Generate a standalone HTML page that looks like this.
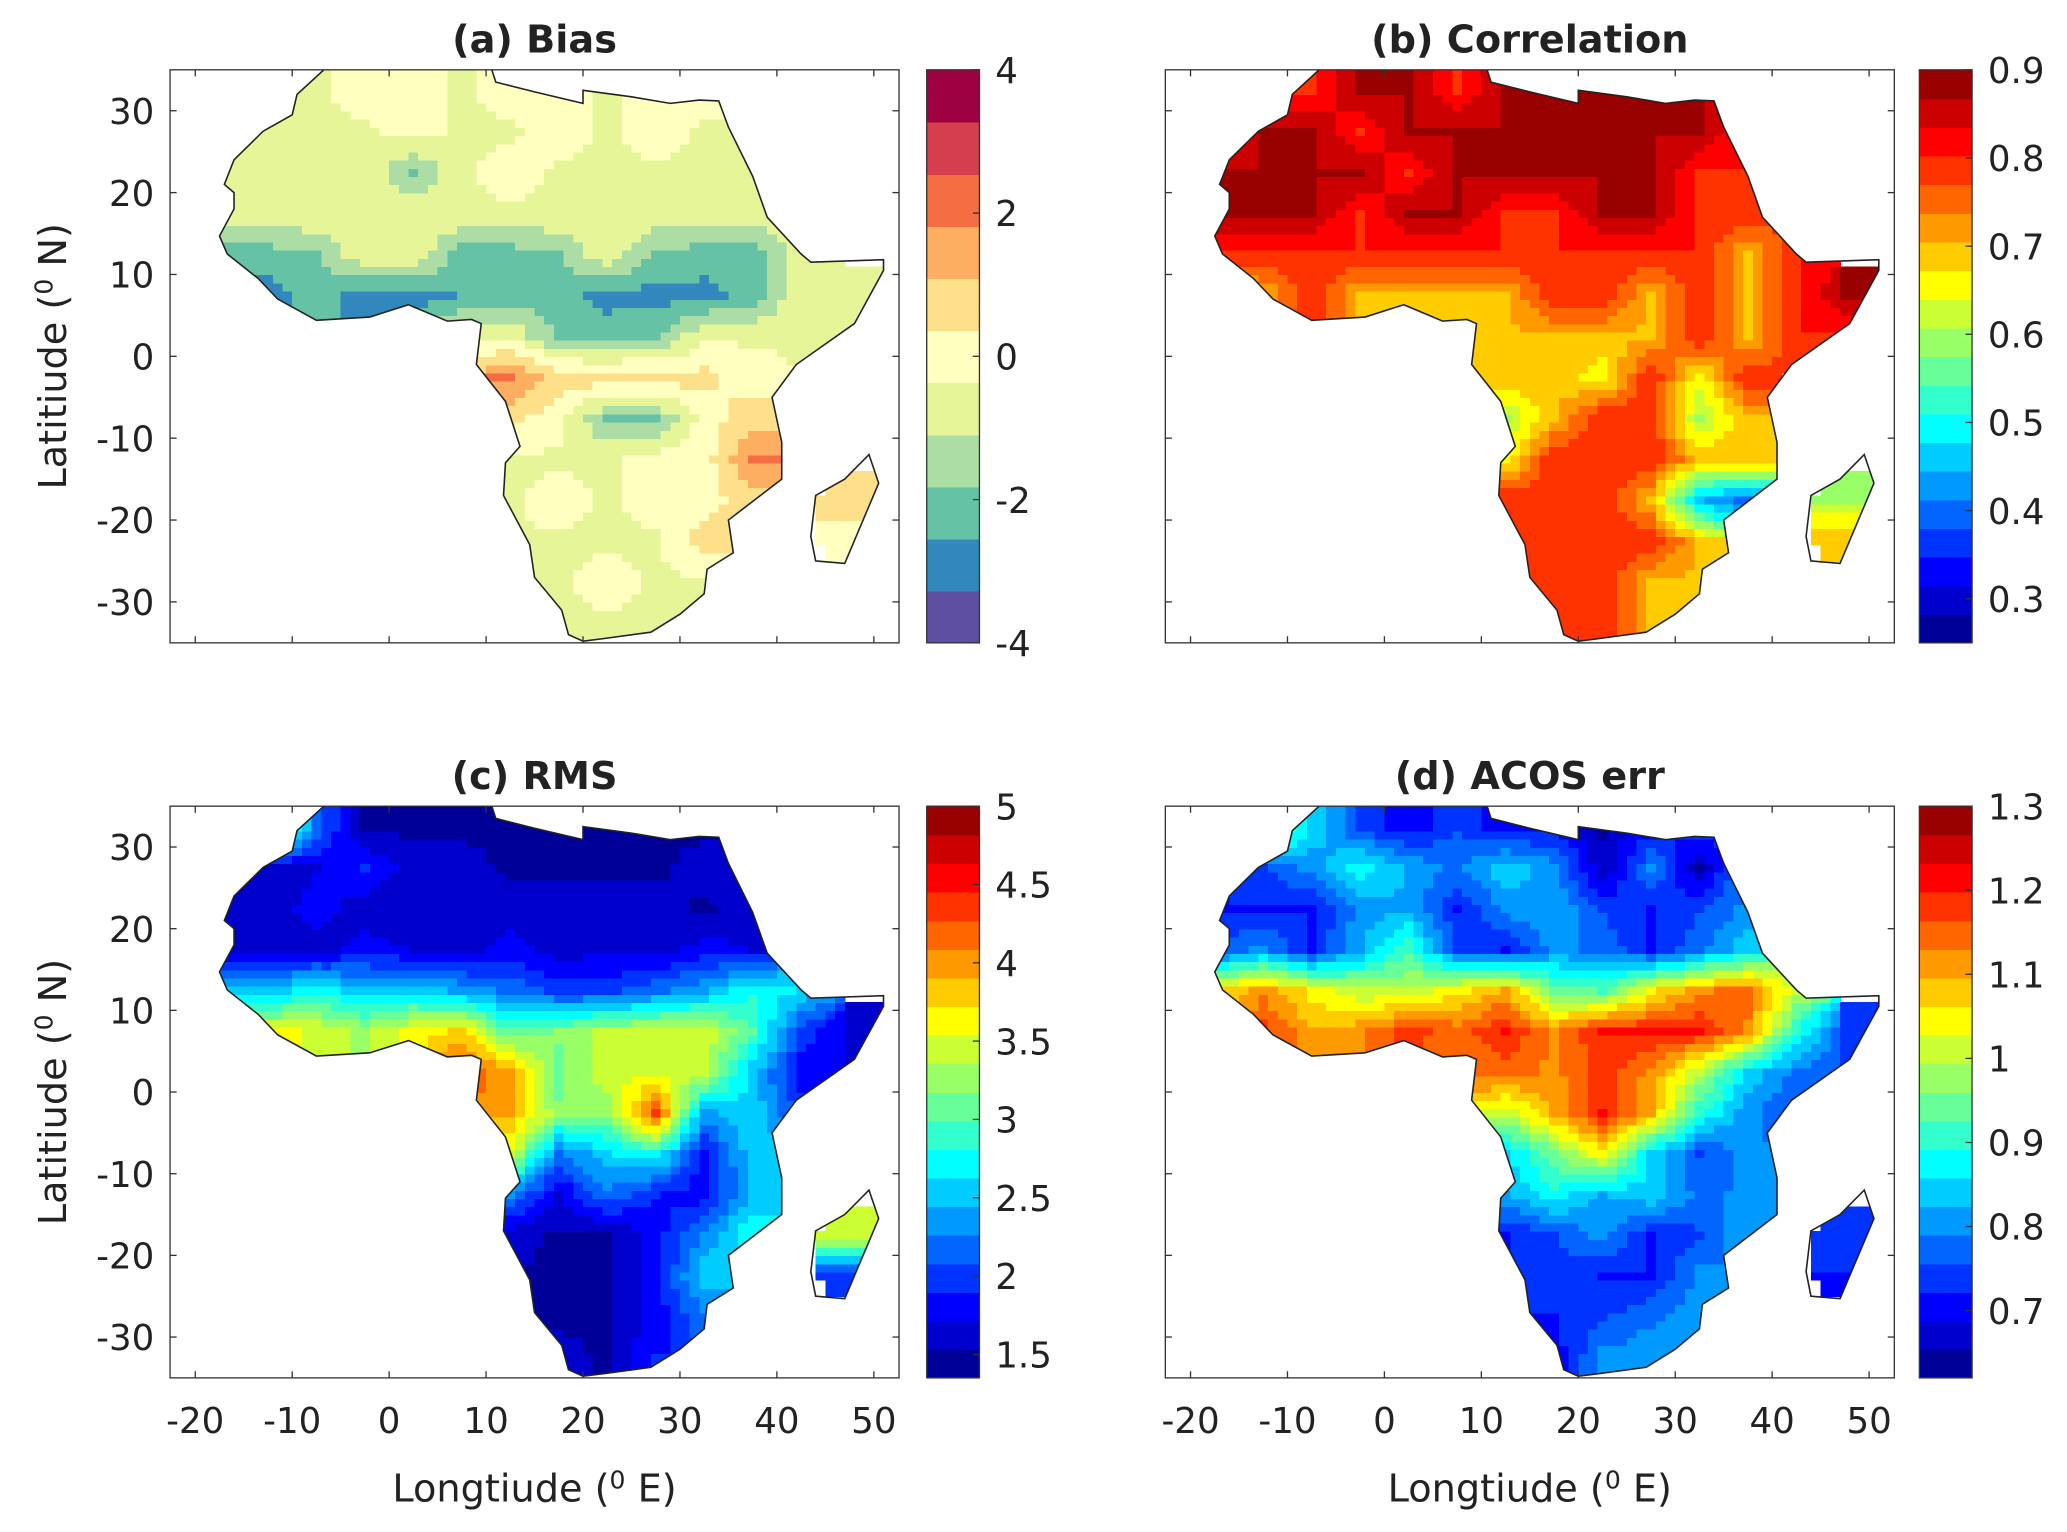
<!DOCTYPE html>
<html><head><meta charset="utf-8"><style>
html,body{margin:0;padding:0;background:#fff}
svg{display:block}
text{font-family:"DejaVu Sans","Liberation Sans",sans-serif;fill:#222}
</style></head><body>
<svg id="fig" width="2067" height="1532" viewBox="0 0 1568 1163" preserveAspectRatio="none" xmlns="http://www.w3.org/2000/svg"></svg>
<script>
// ---- data ----
const lonCenters=[-17.5,-12.5,-7.5,-2.5,2.5,7.5,12.5,17.5,22.5,27.5,32.5,37.5,42.5,47.5];
const latCenters=[32.5,27.5,22.5,17.5,12.5,7.5,2.5,-2.5,-7.5,-12.5,-17.5,-22.5,-27.5,-32.5];
const n=null;
const biasGrid=[
[n,-0.5,-0.5,0,0,-0.5,0,0,-0.5,0,0,n,n,n],
[-0.5,-0.5,-0.5,-0.5,0,-0.5,-0.5,0,-0.5,0,-0.5,n,n,n],
[-0.5,-0.5,-0.5,-0.5,-1.9,-0.5,0,-0.5,-0.5,-0.5,-0.5,-0.5,n,n],
[-0.5,-0.5,-0.5,-0.5,-0.5,-0.5,-0.5,-0.5,-0.5,-0.5,-0.5,-0.5,n,n],
[-2.2,-2.2,-1.9,-0.5,-0.5,-2.2,-2.2,-1.9,-0.5,-2.0,-2.2,-2.2,-0.5,n],
[-2.8,-2.8,-2.2,-2.8,-2.8,-2.5,-2.2,-2.2,-2.8,-2.8,-2.8,-2.2,-0.5,-0.5],
[n,n,n,n,n,-0.5,-0.5,-2.0,-2.2,-1.9,-0.5,-0.5,-0.5,-0.5],
[n,n,n,n,n,n,2.0,0.8,0.8,0.8,0.6,0,n,n],
[n,n,n,n,n,n,0.6,0,-1.9,-1.9,0,0.8,n,n],
[n,n,n,n,n,n,-0.5,-0.5,-0.5,0,0,2.0,n,n],
[n,n,n,n,n,n,-0.5,0,-0.5,0,0,0.8,n,0.8],
[n,n,n,n,n,n,n,-0.5,-0.5,-0.5,0.8,n,n,0],
[n,n,n,n,n,n,n,-0.5,0,-0.5,-0.5,n,n,n],
[n,n,n,n,n,n,n,-0.5,-0.5,-0.5,n,n,n,n]];
const corrGrid=[
[n,0.8,0.8,0.87,0.87,0.8,0.87,0.87,0.87,0.87,0.87,n,n,n],
[0.8,0.87,0.87,0.8,0.87,0.87,0.87,0.87,0.87,0.87,0.87,0.8,n,n],
[0.87,0.87,0.87,0.87,0.8,0.87,0.87,0.87,0.87,0.87,0.8,0.8,n,n],
[0.87,0.87,0.87,0.8,0.87,0.87,0.8,0.8,0.87,0.87,0.8,0.8,n,n],
[0.8,0.8,0.8,0.8,0.8,0.8,0.8,0.8,0.8,0.8,0.8,0.7,0.8,n],
[0.65,0.7,0.8,0.7,0.7,0.7,0.7,0.8,0.8,0.7,0.8,0.7,0.8,0.87],
[n,n,n,n,n,0.7,0.7,0.7,0.7,0.7,0.8,0.7,0.8,0.8],
[n,n,n,n,n,n,0.7,0.7,0.65,0.8,0.65,0.8,n,n],
[n,n,n,n,n,n,0.6,0.7,0.8,0.8,0.6,0.7,n,n],
[n,n,n,n,n,n,0.65,0.8,0.8,0.8,0.7,0.7,n,n],
[n,n,n,n,n,n,0.8,0.8,0.8,0.7,0.45,0.4,n,0.6],
[n,n,n,n,n,n,n,0.8,0.8,0.8,0.7,n,n,0.7],
[n,n,n,n,n,n,n,0.8,0.8,0.7,0.7,n,n,n],
[n,n,n,n,n,n,n,0.8,0.8,0.7,n,n,n,n]];
const rmsGrid=[
[n,3.5,2.2,1.5,1.5,1.5,1.5,1.5,1.5,1.5,1.5,n,n,n],
[1.6,1.6,1.7,1.9,1.6,1.6,1.5,1.5,1.5,1.5,1.6,1.6,n,n],
[1.6,1.6,1.8,1.6,1.6,1.7,1.6,1.6,1.6,1.6,1.5,1.6,n,n],
[1.6,1.7,1.6,1.8,1.7,1.6,1.8,1.6,1.7,1.6,1.8,1.7,n,n],
[2.6,2.5,2.8,2.5,2.6,2.4,2.2,2.0,2.0,2.2,2.4,2.8,2.6,n],
[3.4,3.6,3.5,3.3,3.6,3.8,3.0,3.2,3.4,3.5,3.5,3.0,2.0,1.7],
[n,n,n,n,n,4.2,4.0,3.1,3.5,3.5,3.4,2.5,1.8,1.7],
[n,n,n,n,n,n,4.0,3.2,3.2,4.3,2.4,2.6,2.0,n],
[n,n,n,n,n,n,3.5,2.2,2.6,2.8,1.8,2.6,n,n],
[n,n,n,n,n,n,2.3,1.7,2.2,1.9,1.8,2.5,n,n],
[n,n,n,n,n,n,1.6,1.5,1.5,1.8,2.3,2.8,n,3.5],
[n,n,n,n,n,n,n,1.5,1.5,1.8,2.6,n,n,1.9],
[n,n,n,n,n,n,n,1.5,1.5,1.8,2.2,n,n,n],
[n,n,n,n,n,n,n,1.6,1.5,1.9,n,n,n,n]];
const acosGrid=[
[n,1.0,0.85,0.75,0.7,0.75,0.7,0.72,0.65,0.7,0.75,n,n,n],
[0.72,0.75,0.8,0.88,0.82,0.78,0.85,0.8,0.66,0.8,0.65,0.8,n,n],
[0.72,0.72,0.72,0.8,0.82,0.72,0.8,0.82,0.75,0.72,0.75,0.8,n,n],
[0.75,0.8,0.72,0.82,0.92,0.75,0.72,0.8,0.78,0.72,0.78,0.85,n,n],
[1.05,1.12,1.05,1.0,1.0,1.05,1.1,0.95,0.92,1.05,1.12,1.15,1.0,n],
[1.1,1.18,1.1,1.12,1.18,1.15,1.2,1.12,1.2,1.2,1.2,1.12,0.9,0.75],
[n,n,n,n,n,1.12,1.15,1.12,1.18,1.12,1.0,0.85,0.78,0.75],
[n,n,n,n,n,n,1.0,1.1,1.2,1.1,0.9,0.8,0.75,n],
[n,n,n,n,n,n,0.85,0.95,1.05,0.85,0.75,0.8,n,n],
[n,n,n,n,n,n,0.82,0.88,0.82,0.85,0.78,0.8,n,n],
[n,n,n,n,n,n,0.72,0.75,0.8,0.72,0.75,0.82,n,0.75],
[n,n,n,n,n,n,n,0.75,0.72,0.72,0.8,n,n,0.72],
[n,n,n,n,n,n,n,0.72,0.75,0.78,0.82,n,n,n],
[n,n,n,n,n,n,n,0.7,0.8,0.82,n,n,n,n]];
const lonTicks=[-20,-10,0,10,20,30,40,50];
const latTicks=[30,20,10,0,-10,-20,-30];
const biasTicks=[4,2,0,-2,-4];
const corrTicks=[0.3,0.4,0.5,0.6,0.7,0.8,0.9];
const rmsTicks=[1.5,2,2.5,3,3.5,4,4.5,5];
const acosTicks=[0.7,0.8,0.9,1,1.1,1.2,1.3];
const africa=[[-17,21],[-16,24],[-13,27.5],[-10,29.5],[-9.5,32],[-6,35.8],[-2,35.1],[3,36.8],[10,37.2],[11,33.5],[15,32.3],[20,30.9],[20,32.5],[25,31.7],[29,30.9],[32,31.3],[34,31.2],[35,28],[37.5,22],[39,17],[42.5,12.5],[43.5,11.5],[51,11.8],[51,10.5],[48,4],[42,-1],[39.5,-5],[40.5,-10.5],[40.5,-15],[35,-20],[35.5,-24],[32.8,-26],[32.5,-29],[30,-31.5],[27,-33.7],[22,-34.5],[20,-34.8],[18.5,-34],[17.8,-31],[15,-27],[14.5,-23],[11.8,-17],[12,-13],[13.5,-11],[12,-5.5],[9,-1],[9.5,4],[8.5,4.5],[6,4.3],[2,6.3],[-2,4.8],[-7.5,4.4],[-11.5,7],[-13.5,9.5],[-16.7,12.5],[-17.5,14.7],[-16,18],[-16,20]];
const madagascar=[[44,-25],[47,-25.3],[50.5,-15.5],[49.5,-12],[47,-15],[44,-17],[43.5,-22]];

// ---- drawing ----
const NS='http://www.w3.org/2000/svg';
const svg=document.getElementById('fig');
function mk(tag,attrs,parent){const e=document.createElementNS(NS,tag);for(const k in attrs)e.setAttribute(k,attrs[k]);(parent||svg).appendChild(e);return e;}
function jet(t){const r=Math.min(Math.max(Math.min(4*t-1.5,-4*t+4.5),0),1);const g=Math.min(Math.max(Math.min(4*t-0.5,-4*t+3.5),0),1);const b=Math.min(Math.max(Math.min(4*t+0.5,-4*t+2.5),0),1);return `rgb(${Math.round(r*255)},${Math.round(g*255)},${Math.round(b*255)})`;}
const spectral=['#5e4fa2','#3288bd','#66c2a5','#abdda4','#e6f598','#ffffbf','#fee08b','#fdae61','#f46d43','#d53e4f','#9e0142'];
function colorFor(p,v){const t=(v-p.vmin)/(p.vmax-p.vmin);if(p.cmap==='spectral'){let i=Math.floor(t*11);i=Math.max(0,Math.min(10,i));return spectral[i];}let i=Math.floor(t*20);i=Math.max(0,Math.min(19,i));return jet((i+0.5)/20);}
function interp(grid,lon,lat){let fi=(lon-lonCenters[0])/5,fj=(latCenters[0]-lat)/5;fi=Math.max(0,Math.min(13,fi));fj=Math.max(0,Math.min(13,fj));const i0=Math.min(12,Math.floor(fi)),j0=Math.min(12,Math.floor(fj));const di=fi-i0,dj=fj-j0;let s=0,w=0;const nodes=[[i0,j0,(1-di)*(1-dj)],[i0+1,j0,di*(1-dj)],[i0,j0+1,(1-di)*dj],[i0+1,j0+1,di*dj]];for(const [i,j,ww] of nodes){const v=grid[j][i];if(v!==null){s+=v*ww;w+=ww;}}if(w<0.35)return null;return s/w;}

const panels=[
{id:'bias',title:'(a) Bias',grid:biasGrid,x0:129,x1:682,y0:53,y1:488,cb:703,cmap:'spectral',vmin:-4,vmax:4,ticks:biasTicks,left:true,bottom:false},
{id:'correlation',title:'(b) Correlation',grid:corrGrid,x0:884,x1:1437,y0:53,y1:488,cb:1456,cmap:'jet',vmin:0.25,vmax:0.9,ticks:corrTicks,left:false,bottom:false},
{id:'rms',title:'(c) RMS',grid:rmsGrid,x0:129,x1:682,y0:612,y1:1046,cb:703,cmap:'jet',vmin:1.35,vmax:5,ticks:rmsTicks,left:true,bottom:true},
{id:'acos-err',title:'(d) ACOS err',grid:acosGrid,x0:884,x1:1437,y0:612,y1:1046,cb:1456,cmap:'jet',vmin:0.62,vmax:1.3,ticks:acosTicks,left:false,bottom:true}];

panels.forEach((p,pi)=>{
  const X=lon=>p.x0+(lon+22.6)/75.2*(p.x1-p.x0);
  const Y=lat=>p.y0+(35-lat)/70*(p.y1-p.y0);
  const g=mk('g',{});
  
  
  const defs=mk('defs',{},g);
  const cp=mk('clipPath',{id:'clip'+pi},defs);
  const ptsA=africa.map(q=>X(q[0])+','+Y(q[1])).join(' ');
  const ptsM=madagascar.map(q=>X(q[0])+','+Y(q[1])).join(' ');
  mk('polygon',{points:ptsA},cp);mk('polygon',{points:ptsM},cp);
  const cpb=mk('clipPath',{id:'box'+pi},defs);
  mk('rect',{x:p.x0,y:p.y0,width:p.x1-p.x0,height:p.y1-p.y0},cpb);
  const inner=mk('g',{'clip-path':'url(#box'+pi+')'},g);
  const field=mk('g',{'clip-path':'url(#clip'+pi+')','shape-rendering':'crispEdges'},inner);
  
  
  const step=1;
  for(let lon=-20;lon<52;lon+=step){for(let lat=-35;lat<37;lat+=step){
    const v=interp(p.grid,lon+step/2,lat+step/2);if(v===null)continue;
    const x=X(lon),y=Y(lat+step),w=X(lon+step)-x,h=Y(lat)-y;
    const r=mk('rect',{x:x.toFixed(2),y:y.toFixed(2),width:(w+0.6).toFixed(2),height:(h+0.6).toFixed(2),fill:colorFor(p,v)},field);
    
    
  }}
  const o1=mk('polygon',{points:ptsA,fill:'none',stroke:'#222','stroke-width':1.2},inner);
  
  
  const o2=mk('polygon',{points:ptsM,fill:'none',stroke:'#222','stroke-width':1.2},inner);
  
  
  const fr=mk('rect',{x:p.x0,y:p.y0,width:p.x1-p.x0,height:p.y1-p.y0,fill:'none',stroke:'#333','stroke-width':1},g);
  
  
  lonTicks.forEach(t=>{const x=X(t);mk('line',{x1:x,x2:x,y1:p.y1,y2:p.y1-5,stroke:'#333'},g);mk('line',{x1:x,x2:x,y1:p.y0,y2:p.y0+5,stroke:'#333'},g);
    if(p.bottom){const tx=mk('text',{x:x,y:p.y1+42,'font-size':27,'text-anchor':'middle'},g);tx.textContent=t;}});
  latTicks.forEach(t=>{const y=Y(t);mk('line',{x1:p.x0,x2:p.x0+5,y1:y,y2:y,stroke:'#333'},g);mk('line',{x1:p.x1,x2:p.x1-5,y1:y,y2:y,stroke:'#333'},g);
    if(p.left){const tx=mk('text',{x:p.x0-12,y:y+10,'font-size':27,'text-anchor':'end'},g);tx.textContent=t;}});
  const ti=mk('text',{x:(p.x0+p.x1)/2,y:p.y0-13,'font-size':29,'font-weight':'bold','text-anchor':'middle'},g);
  ti.textContent=p.title;
  if(p.left){const cy=(p.y0+p.y1)/2;const yl=mk('text',{x:0,y:0,'font-size':29,'text-anchor':'middle',transform:`translate(50,${cy}) rotate(-90)`},g);
    yl.innerHTML='Latitiude (<tspan dy="-10" font-size="19">0</tspan><tspan dy="10"> N)</tspan>';}
  if(p.bottom){const xl=mk('text',{x:(p.x0+p.x1)/2,y:p.y1+94,'font-size':29,'text-anchor':'middle'},g);
    xl.innerHTML='Longtiude (<tspan dy="-10" font-size="19">0</tspan><tspan dy="10"> E)</tspan>';}
  const cbg=mk('g',{'shape-rendering':'crispEdges'},g);
  
  
  const nb=p.cmap==='spectral'?11:20,H=p.y1-p.y0;
  for(let i=0;i<nb;i++){const v=p.vmin+(i+0.5)/nb*(p.vmax-p.vmin);const y=p.y1-(i+1)/nb*H;
    mk('rect',{x:p.cb,y:y,width:40,height:H/nb+0.6,fill:colorFor(p,v)},cbg);}
  mk('rect',{x:p.cb,y:p.y0,width:40,height:H,fill:'none',stroke:'#333'},g);
  p.ticks.forEach(t=>{const y=p.y1-(t-p.vmin)/(p.vmax-p.vmin)*H;mk('line',{x1:p.cb+40,x2:p.cb+35,y1:y,y2:y,stroke:'#333'},g);
    const tx=mk('text',{x:p.cb+52,y:y+10,'font-size':27},g);tx.textContent=t;});
});
</script>
</body></html>
